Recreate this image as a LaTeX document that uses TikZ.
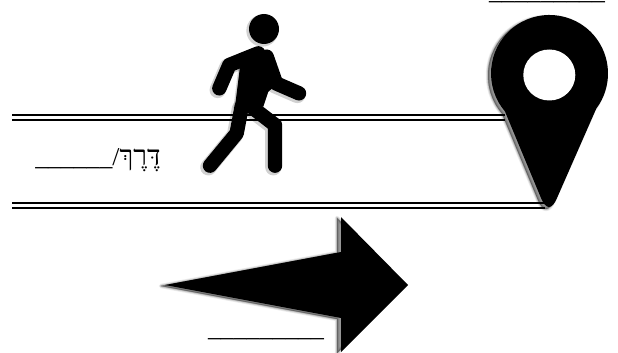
\documentclass[tikz,border=0pt]{standalone}
\usepackage{fontspec}
\setmainfont{Liberation Serif}
\newfontfamily\hebfont[Script=Hebrew]{Liberation Serif}
\TeXXeTstate=1
\newcommand{\softshadow}[3]{%
  \foreach \wd/\op in {4.5/.07,3/.10,1.5/.14,0.5/.18}{
    \begin{scope}[shift={(#1,#2)}]
      \fill[black,opacity=\op] #3;
      \draw[black,opacity=\op,line width=\wd*0.75pt,line join=round] #3;
    \end{scope}
  }%
}
\newcommand{\pinoutline}{(504.9,111.3) arc[start angle=139.7,end angle=397,radius=58.5] -- (557,198) .. controls (552,210) and (546,210) .. (541,198) -- cycle}
\newcommand{\arrowoutline}{(165,285) -- (341,252) -- (341,217) -- (408,285) -- (341,352) -- (341,318) -- cycle}
\tikzset{
  x=0.75pt,y=-0.75pt,
  roadline/.style={line width=1.5pt,black},
  blank/.style={font=\fontsize{19.3pt}{21pt}\selectfont,inner sep=0pt,anchor=base},
  limb/.style={line width=10.8pt,line cap=round,line join=round,black}
}
\begin{document}
\begin{tikzpicture}
\useasboundingbox (0,0) rectangle (618,353);
% road
\coordinate (rta) at (12,115.5); \coordinate (rtb) at (505,115.5);
\coordinate (rua) at (12,120); \coordinate (rub) at (505,120);
\coordinate (bta) at (12,203); \coordinate (btb) at (545,203);
\coordinate (bua) at (12,208); \coordinate (bub) at (545,208);
\draw[roadline] (rta) -- (rtb);
\draw[roadline] (rua) -- (rub);
\draw[roadline] (bta) -- (btb);
\draw[roadline] (bua) -- (bub);
% walker
\begin{scope}[shift={(190,0)},x=0.25pt,y=-0.25pt]
  \begin{scope}[shift={(-5,5)},opacity=.18]
    \fill (222,87) circle[radius=48];
    \draw[line width=12.2pt,line cap=round,line join=round] (88,265) -- (118,195) -- (205,160) (230,170) -- (258,250) -- (327,280) (60,497) -- (140,400) -- (155,320) (190,325) -- (255,375) -- (255,497);
    \fill (205,143) -- (240,160) -- (275,240) -- (235,275) -- (220,320) -- (135,320) -- (150,200) -- (110,180) -- cycle;
  \end{scope}
  \fill (222,87) circle[radius=45];
  \draw[limb] (88,265) -- (118,195) -- (205,160);
  \draw[limb] (230,170) -- (258,250) -- (327,280);
  \draw[limb] (60,497) -- (140,400) -- (155,320);
  \draw[limb] (190,325) -- (255,375) -- (255,497);
  \fill (205,143) -- (240,160) -- (275,240) -- (235,275) -- (220,320) -- (135,320) -- (150,200) -- (110,180) -- cycle;
\end{scope}
% pin
\softshadow{-3}{2}{\pinoutline}
\fill[black] \pinoutline;
\fill[white] (549.3,75) ellipse[x radius=26,y radius=25.5];
% arrow
\softshadow{-4}{1}{\arrowoutline}
\fill[black] \arrowoutline;
% labels
\node[blank,anchor=base west] (road) at (35,166) {\_\_\_\_\_\_/{\fontsize{21pt}{23pt}\hebfont\beginR דֶּרֶךְ\endR}};
\node[blank] (top) at (547,0) {\_\_\_\_\_\_\_\_\_};
\node[blank] (bottom) at (266,336) {\_\_\_\_\_\_\_\_\_};
\end{tikzpicture}
\end{document}
